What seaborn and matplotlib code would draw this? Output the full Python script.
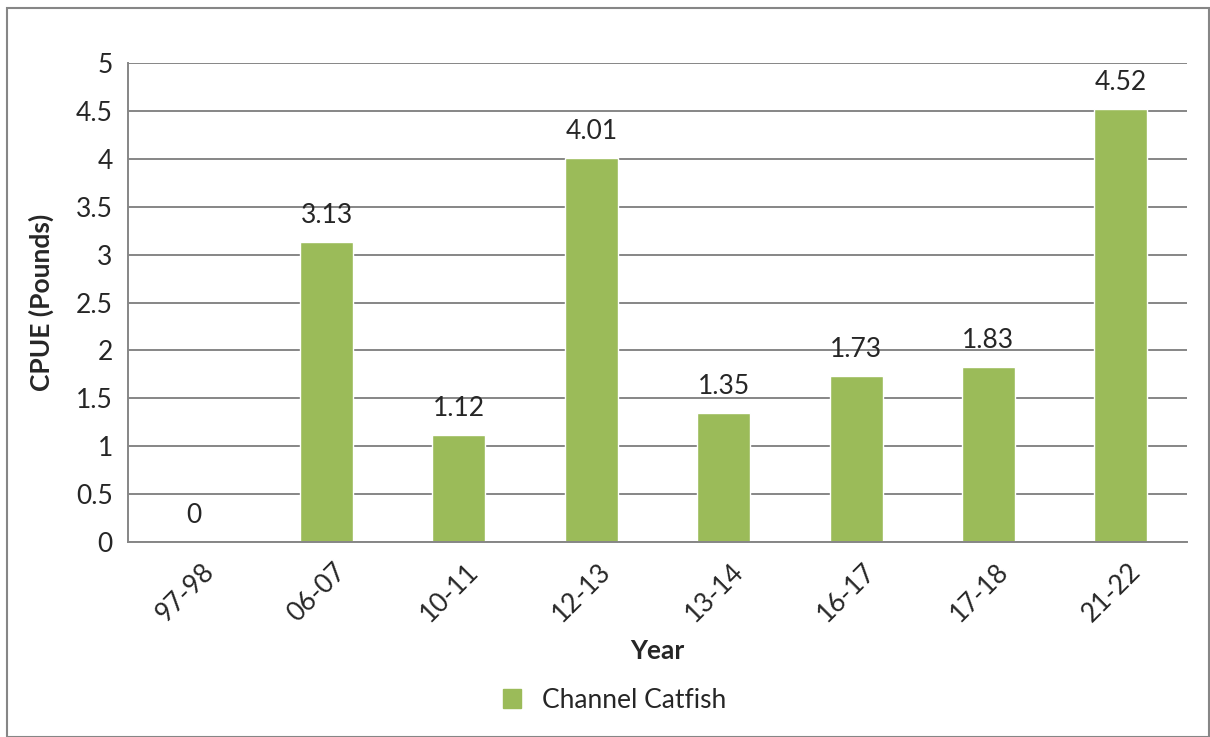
import matplotlib
matplotlib.use("Agg")
import matplotlib.pyplot as plt
import matplotlib.transforms as mtransforms
import seaborn as sns
import pandas as pd
from matplotlib.patches import Rectangle
from matplotlib.ticker import FixedLocator, MultipleLocator

years = ["97-98", "06-07", "10-11", "12-13", "13-14", "16-17", "17-18", "21-22"]
cpue = [0, 3.13, 1.12, 4.01, 1.35, 1.73, 1.83, 4.52]
series_name = "Channel Catfish"

sns.set_style("white")
plt.rcParams["font.family"] = ["Lato", "DejaVu Sans"]

bar_color = "#9BBB59"
grid_color = "#868686"
fs = 19

df = pd.DataFrame({"Year": years, "CPUE": cpue, "Species": series_name})

fig = plt.figure(figsize=(12.10, 7.37), dpi=100)
ax = fig.add_axes([0.1058, 0.2646, 0.8752, 0.6499])

sns.barplot(data=df, x="Year", y="CPUE", hue="Species", palette=[bar_color],
            width=0.4, ax=ax, legend=False, saturation=1)

ax.set_ylim(0, 5)
ax.set_xlim(-0.5, len(years) - 0.5)
ax.yaxis.set_major_locator(MultipleLocator(0.5))
ax.set_yticklabels([f"{v:g}" for v in ax.get_yticks()])
ax.grid(axis="y", color=grid_color, linewidth=1.4)
ax.set_axisbelow(True)

for side in ["top", "right"]:
    ax.spines[side].set_visible(False)
for side in ["left", "bottom"]:
    ax.spines[side].set_color(grid_color)
    ax.spines[side].set_linewidth(1.4)

# category ticks sit on the boundaries between bars
ax.xaxis.set_major_locator(FixedLocator([i - 0.5 for i in range(len(years) + 1)]))
ax.xaxis.set_major_formatter(plt.NullFormatter())
ax.xaxis.set_minor_locator(FixedLocator(range(len(years))))
ax.set_xticklabels(years, minor=True, fontsize=fs)
ax.tick_params(axis="x", which="major", length=7, width=1.4, color=grid_color, direction="out")
ax.tick_params(axis="x", which="minor", length=0, pad=12, labelrotation=45)
ax.tick_params(axis="y", length=7, width=1.4, color=grid_color, direction="out", labelsize=fs, pad=4)
shift = mtransforms.ScaledTranslation(7 / 100, 0, fig.dpi_scale_trans)
for lbl in ax.get_xticklabels(minor=True):
    lbl.set_horizontalalignment("right")
    lbl.set_rotation_mode("anchor")
    lbl.set_transform(lbl.get_transform() + shift)

ax.set_xlabel("Year", fontsize=fs, fontweight="bold", labelpad=9)
ax.set_ylabel("CPUE (Pounds)", fontsize=fs, fontweight="bold", labelpad=16)

for i, v in enumerate(cpue):
    ax.annotate(f"{v:g}", (i, v), xytext=(0, 10), textcoords="offset points",
                ha="center", va="bottom", fontsize=fs)

handle = Rectangle((0, 0), 1, 1, color=bar_color)
fig.legend([handle], [series_name], loc="center", bbox_to_anchor=(0.508, 0.05),
           frameon=False, fontsize=fs, handlelength=0.7, handleheight=0.7, handletextpad=0.8)

# outer chart frame
fig.patches.append(Rectangle((0.006, 0.0), 0.993, 0.989, transform=fig.transFigure,
                             fill=False, edgecolor=grid_color, linewidth=1.5))

fig.savefig("out.png", dpi=100)
